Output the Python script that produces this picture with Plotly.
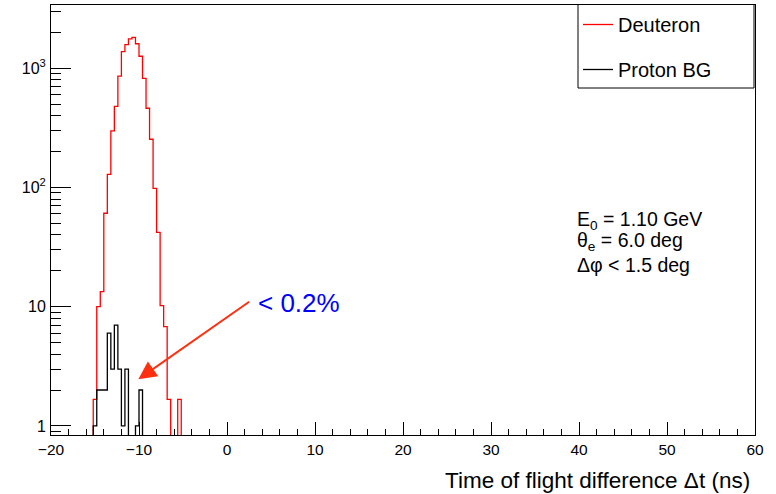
import numpy as np
import plotly.graph_objects as go

# ---------------- data ----------------
x_min, x_max = -20.0, 60.0
bin_width = 0.4

deuteron_start = -15.2
deuteron_counts = [1.67, 10.0, 13.4, 60.8, 129, 298, 480, 861, 1378, 1577,
                   1766, 1820, 1607, 1262, 824, 462, 254, 98.5, 42.1, 10.2,
                   6.8, 1.67, 0, 0, 1.67]

proton_start = -15.2
proton_counts = [1, 2, 2, 2, 6, 3, 7, 3, 1, 3, 0, 0, 1, 2]

y_major_vals = [1, 10, 100, 1000]
y_major_text = ["1", "10", "10<sup>2</sup>", "10<sup>3</sup>"]

stats_lines = ["E<sub>0</sub> = 1.10 GeV",
               "θ<sub>e</sub> = 6.0 deg",
               "Δφ &lt; 1.5 deg"]

# ---------------- helpers ----------------
n_bins = int(round((x_max - x_min) / bin_width))
edges = x_min + bin_width * np.arange(n_bins + 1)
FLOOR = 1e-3  # empty bins drop below the visible log range


def full_hist(start, counts):
    arr = np.zeros(n_bins)
    i0 = int(round((start - x_min) / bin_width))
    arr[i0:i0 + len(counts)] = counts
    arr = np.where(arr > 0, arr, FLOOR)
    return np.append(arr, arr[-1])


W, H = 776, 494
L, R, T, B = 51, 21, 5, 59
PW, PH = W - L - R, H - T - B


def px(xp):
    return (xp - L) / PW


def py(yp):
    return 1 - (yp - T) / PH


fig = go.Figure()
fig.add_trace(go.Scatter(x=edges, y=full_hist(deuteron_start, deuteron_counts),
                         mode="lines", line=dict(color="#ff0000", width=1.3, shape="hv"),
                         name="Deuteron", legendgroup="d"))
fig.add_trace(go.Scatter(x=edges, y=full_hist(proton_start, proton_counts),
                         mode="lines", line=dict(color="#000000", width=1.3, shape="hv"),
                         name="Proton BG", legendgroup="p"))

# minor ticks for log axis
y_minor = [0.9]
for dec in [1, 10, 100, 1000]:
    for k in range(2, 10):
        if dec * k < 3500:
            y_minor.append(dec * k)

font_family = "Liberation Sans, Arial, Helvetica, sans-serif"

# legend frame (ROOT TLegend box)
fig.add_shape(type="rect", xref="paper", yref="paper",
              x0=px(578), x1=px(754), y0=py(88), y1=py(4.5),
              line=dict(color="black", width=1), fillcolor="white", layer="above")

fig.update_layout(
    width=W, height=H,
    margin=dict(l=L, r=R, t=T, b=B),
    paper_bgcolor="white", plot_bgcolor="white",
    font=dict(family=font_family, size=16, color="black"),
    showlegend=True,
    legend=dict(x=px(578), y=1.0, xanchor="left", yanchor="top",
                borderwidth=0, bgcolor="rgba(0,0,0,0)",
                font=dict(size=20, family=font_family),
                tracegroupgap=16),
    xaxis=dict(range=[x_min, x_max], showgrid=False, zeroline=False,
               showline=True, mirror=True, linecolor="black", linewidth=1,
               ticks="inside", ticklen=13, tickcolor="black", tickwidth=1,
               tick0=-20, dtick=10, tickfont=dict(size=15.5),
               minor=dict(ticks="inside", ticklen=6.5, dtick=2, tick0=-20,
                          tickcolor="black", showgrid=False)),
    yaxis=dict(type="log", range=[-0.0763, 3.531], showgrid=False, zeroline=False,
               showline=True, mirror=True, linecolor="black", linewidth=1,
               ticks="inside", ticklen=20, tickcolor="black", tickwidth=1,
               tickmode="array", tickvals=y_major_vals, ticktext=y_major_text,
               tickfont=dict(size=16), ticklabelstandoff=1,
               minor=dict(ticks="inside", ticklen=10, tickmode="array",
                          tickvals=y_minor, tickcolor="black", showgrid=False)),
)

# x-axis title, right aligned like ROOT
fig.add_annotation(text="Time of flight difference Δt (ns)", xref="paper", yref="paper",
                   x=px(752), y=py(480), xanchor="right", yanchor="middle",
                   showarrow=False, font=dict(size=22.5, family=font_family))

# stats text
for line, yp in zip(stats_lines, [220, 242, 265]):
    fig.add_annotation(text=line, xref="paper", yref="paper", x=px(575), y=py(yp),
                       xanchor="left", yanchor="middle", showarrow=False,
                       font=dict(size=19.5, family=font_family))

# arrow pointing to the background
fig.add_annotation(x=-10.08, y=0.391, ax=2.69, ay=1.050, xref="x", yref="y",
                   axref="x", ayref="y", text="", showarrow=True,
                   arrowhead=2, arrowsize=1.8, arrowwidth=2, arrowcolor="#ff3010")
fig.add_annotation(text="&lt; 0.2%", x=3.3, y=1.031, xref="x", yref="y",
                   xanchor="left", yanchor="middle", showarrow=False,
                   font=dict(size=26, color="#0000ff", family=font_family))

fig.write_html("out.html")
